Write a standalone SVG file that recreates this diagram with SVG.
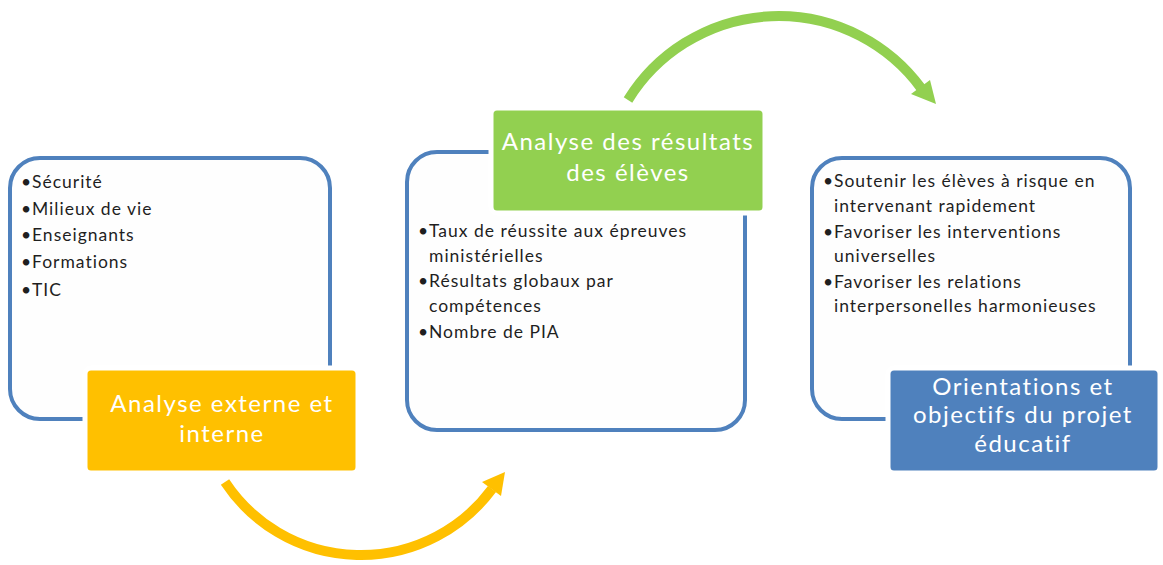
<svg xmlns="http://www.w3.org/2000/svg" width="1163" height="565" viewBox="0 0 1163 565">
<style>
.frame{fill:#fefefe;stroke:#4f81bd;stroke-width:4}
.bul{font-family:Lato,"Open Sans","Liberation Sans",sans-serif;font-size:17.5px;letter-spacing:1px;fill:#1f1f1f}
.ttl{font-family:Lato,"Open Sans","Liberation Sans",sans-serif;font-size:24px;letter-spacing:1.5px;fill:#ffffff;text-anchor:middle}
.tab{stroke:#ffffff;stroke-width:5}
</style>
<rect width="1163" height="565" fill="#ffffff"/>
<g id="connectors">
  <path d="M225,482 A163,163 0 0 0 492,489" fill="none" stroke="#ffc000" stroke-width="10"/>
  <polygon points="505,472 501,496 482,482" fill="#ffc000"/>
  <path d="M628,100 A177,177 0 0 1 921,88" fill="none" stroke="#92d050" stroke-width="10"/>
  <polygon points="936,104 930,80 911,94" fill="#92d050"/>
</g>
<g id="node-externe">
  <rect class="frame" x="10" y="158" width="320" height="261" rx="30"/>
  <text class="bul" x="21" y="188">•</text><text class="bul" x="32" y="188">Sécurité</text>
  <text class="bul" x="21" y="215">•</text><text class="bul" x="32" y="215">Milieux de vie</text>
  <text class="bul" x="21" y="241">•</text><text class="bul" x="32" y="241">Enseignants</text>
  <text class="bul" x="21" y="268">•</text><text class="bul" x="32" y="268">Formations</text>
  <text class="bul" x="21" y="296">•</text><text class="bul" x="32" y="296">TIC</text>
  <rect class="tab" x="85" y="368" width="273" height="105" rx="6" fill="#ffc000"/>
  <text class="ttl" x="222" y="412">Analyse externe et</text>
  <text class="ttl" x="222" y="442">interne</text>
</g>
<g id="node-resultats">
  <rect class="frame" x="407" y="152" width="338" height="278" rx="30"/>
  <text class="bul" x="418" y="237">•</text><text class="bul" x="429" y="237">Taux de réussite aux épreuves</text>
  <text class="bul" x="429" y="262">ministérielles</text>
  <text class="bul" x="418" y="287">•</text><text class="bul" x="429" y="287">Résultats globaux par</text>
  <text class="bul" x="429" y="312">compétences</text>
  <text class="bul" x="418" y="338">•</text><text class="bul" x="429" y="338">Nombre de PIA</text>
  <rect class="tab" x="491" y="108" width="274" height="105" rx="6" fill="#92d050"/>
  <text class="ttl" x="628" y="150">Analyse des résultats</text>
  <text class="ttl" x="628" y="181">des élèves</text>
</g>
<g id="node-orientations">
  <rect class="frame" x="812" y="158" width="318" height="261" rx="30"/>
  <text class="bul" x="823" y="187">•</text><text class="bul" x="834" y="187">Soutenir les élèves à risque en</text>
  <text class="bul" x="834" y="212">intervenant rapidement</text>
  <text class="bul" x="823" y="238">•</text><text class="bul" x="834" y="238">Favoriser les interventions</text>
  <text class="bul" x="834" y="262">universelles</text>
  <text class="bul" x="823" y="288">•</text><text class="bul" x="834" y="288">Favoriser les relations</text>
  <text class="bul" x="834" y="312">interpersonelles harmonieuses</text>
  <rect class="tab" x="888" y="368" width="272" height="105" rx="6" fill="#4f81bd"/>
  <text class="ttl" x="1023" y="395">Orientations et</text>
  <text class="ttl" x="1023" y="423">objectifs du projet</text>
  <text class="ttl" x="1023" y="452">éducatif</text>
</g>
</svg>
